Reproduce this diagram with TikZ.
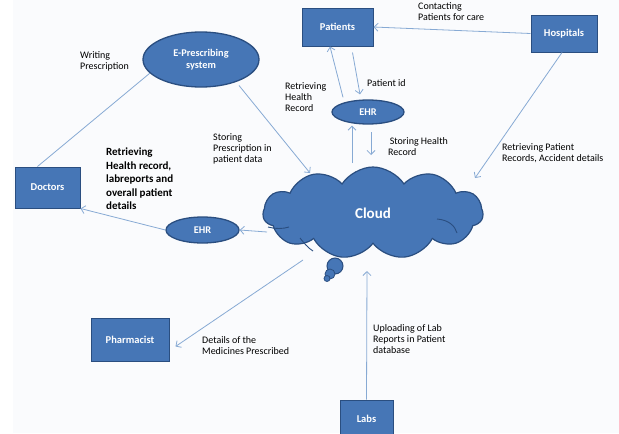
\documentclass[tikz,border=0pt]{standalone}
\usepackage{fontspec}
\setmainfont{Carlito}
\usetikzlibrary{shapes.geometric,shapes.symbols,arrows.meta}
\definecolor{ofblue}{RGB}{70,118,182}
\definecolor{ofborder}{RGB}{42,78,128}
\definecolor{linkc}{RGB}{135,170,212}
\definecolor{bgc}{RGB}{250,251,253}
\tikzset{
  box/.style={rectangle,fill=ofblue,draw=ofborder,line width=1pt,text=white,
    font=\fontsize{10.5}{12}\selectfont\bfseries,inner sep=0pt,align=center},
  oval/.style={ellipse,fill=ofblue,draw=ofborder,line width=1.3pt,text=white,
    font=\fontsize{10.3}{12}\selectfont\bfseries,inner sep=0pt,align=center},
  lbl/.style={anchor=north west,inner sep=0pt,align=left,text=black,
    font=\fontsize{10}{11}\selectfont},
  link/.style={draw=linkc,line width=0.8pt},
  arr/.style={link,-{Straight Barb[length=4pt,width=8pt]}},
  seam/.style={draw=ofborder,line width=0.9pt},
}
\begin{document}
\begin{tikzpicture}[x=1pt,y=-1pt]
\useasboundingbox (0,0) rectangle (619,434);
\fill[white] (0,0) rectangle (619,434);
\fill[bgc] (13,0) rectangle (619,433);

% cloud
\node[cloud,cloud puffs=11,cloud puff arc=115,cloud ignores aspect,
  minimum width=220pt,minimum height=92pt,fill=ofblue,draw=ofborder,line width=1.2pt,
  text=white,font=\fontsize{15}{17}\selectfont\bfseries] (cloud) at (373,213) {Cloud};
\draw[seam] (437,219) .. controls (449,220) and (455,226) .. (457,233);
\draw[seam] (268,227) .. controls (275,229) and (283,229) .. (289,227);
\draw[seam] (300,238) .. controls (304,243) and (308,248) .. (313,251);
\fill[ofblue,draw=ofborder,line width=1pt] (335,266) circle (8);
\fill[ofblue,draw=ofborder,line width=0.8pt] (330,274) circle (5);
\fill[ofblue,draw=ofborder,line width=0.8pt] (327,278.5) circle (3);

% nodes
\node[box,minimum width=71pt,minimum height=38pt] (patients) at (337.5,27) {Patients};
\node[box,minimum width=66pt,minimum height=37pt] (hospitals) at (564,33.5) {Hospitals};
\node[box,minimum width=65pt,minimum height=41pt] (doctors) at (47.5,187.5) {Doctors};
\node[box,minimum width=78pt,minimum height=43pt] (pharm) at (130,339.5) {Pharmacist};
\node[box,minimum width=53pt,minimum height=38pt] (labs) at (366.5,419) {Labs};
\node[oval,minimum width=116pt,minimum height=55pt] (eps) at (201,59.5) {E-Prescribing\\system};
\node[oval,minimum width=72pt,minimum height=24pt] (ehr1) at (368,112) {EHR};
\node[oval,minimum width=73pt,minimum height=26pt] (ehr2) at (202.5,230) {EHR};

% free ends
\coordinate (c1) at (310,173);
\coordinate (c2) at (352,163);
\coordinate (c3) at (475,178);
\coordinate (c4) at (267,232);
\coordinate (c5) at (303,260);
\coordinate (c6) at (367,271);
\coordinate (s1) at (371,132);
\coordinate (s2) at (371,155);

% connectors
\draw[link] ([xshift=-10pt]doctors.north) -- (eps.195);
\draw[arr] ([xshift=38pt,yshift=-26pt]eps.center) -- (c1);
\draw[arr] ([xshift=15pt,yshift=-6pt]patients.south) -- ([xshift=-8pt,yshift=5pt]ehr1.north);
\draw[arr] ([xshift=-25pt,yshift=2pt]ehr1.north) -- ([xshift=-7.5pt]patients.south);
\draw[arr] (c2) -- ([xshift=-16pt,yshift=-1pt]ehr1.south);
\draw[arr] (s1) -- (s2);
\draw[arr] (hospitals.west) -- (patients.east);
\draw[arr] ([xshift=-2pt]hospitals.south) -- (c3);
\draw[arr] (c4) -- (ehr2.east);
\draw[arr] (ehr2.west) -- (doctors.south east);
\draw[arr] (c5) -- ([xshift=6pt,yshift=-7pt]pharm.east);
\draw[arr] (labs.north) -- (c6);

% labels
\node[lbl] (l1) at (80,51) {Writing\\Prescription};
\node[lbl] (l2) at (213,133) {Storing\\Prescription in\\patient data};
\node[lbl,font=\fontsize{11}{13.4}\selectfont\bfseries] (l3) at (106,148) {Retrieving\\Health record,\\labreports and\\overall patient\\details};
\node[lbl] (l4) at (285,82) {Retrieving\\Health\\Record};
\node[lbl] (l5) at (367,79) {Patient id};
\node[lbl] (l6) at (388,137) {\,Storing Health\\Record};
\node[lbl] (l7) at (418,2) {Contacting\\Patients for care};
\node[lbl] (l8) at (502,143) {Retrieving Patient\\Records, Accident details};
\node[lbl] (l9) at (202,336) {Details of the\\Medicines Prescribed};
\node[lbl] (l10) at (373,324) {Uploading of Lab\\Reports in Patient\\database};
\end{tikzpicture}
\end{document}
